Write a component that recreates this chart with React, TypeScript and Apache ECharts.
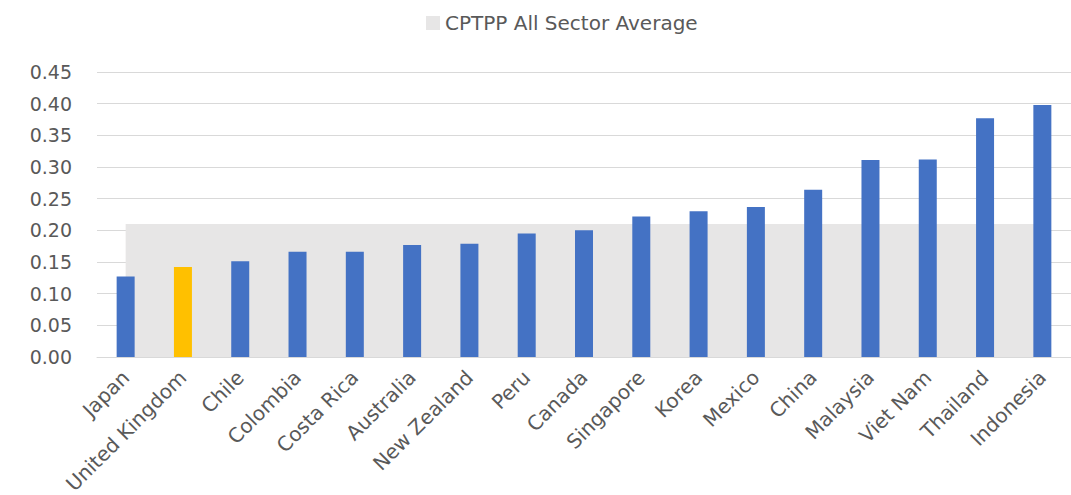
import React, { useEffect, useRef } from "react";
import * as echarts from "echarts";

const countries = [
  "Japan", "United Kingdom", "Chile", "Colombia", "Costa Rica", "Australia",
  "New Zealand", "Peru", "Canada", "Singapore", "Korea", "Mexico", "China",
  "Malaysia", "Viet Nam", "Thailand", "Indonesia",
];
const values = [
  0.127, 0.142, 0.151, 0.166, 0.166, 0.177, 0.179, 0.195, 0.2, 0.222, 0.23,
  0.237, 0.264, 0.311, 0.312, 0.377, 0.398,
];
const averageName = "CPTPP All Sector Average";
const averageValues = [
  0.21, 0.21, 0.21, 0.21, 0.21, 0.21, 0.21, 0.21, 0.21, 0.21, 0.21, 0.21,
  0.21, 0.21, 0.21, 0.21, 0.21,
];
const highlightCountry = "United Kingdom";
const yTicks = { min: 0, max: 0.45, interval: 0.05 };

const FONT = "DejaVu Sans";
const TEXT = "#595959";

export default function App() {
  const ref = useRef<HTMLDivElement>(null);
  useEffect(() => {
    if (!ref.current) return;
    const chart = echarts.init(ref.current, null, { renderer: "svg" });
    chart.setOption({
      animation: false,
      backgroundColor: "#ffffff",
      legend: {
        data: [averageName],
        left: 421,
        top: 8,
        icon: "rect",
        itemWidth: 14,
        itemHeight: 14,
        itemGap: 6,
        textStyle: { fontFamily: FONT, fontSize: 20, color: TEXT },
      },
      grid: {
        left: 97,
        right: 0,
        top: 72,
        bottom: 138,
        containLabel: false,
        outerBoundsMode: "none",
      },
      xAxis: {
        type: "category",
        data: countries,
        boundaryGap: true,
        axisTick: { show: false },
        axisLine: { show: true, lineStyle: { color: "#d9d9d9", width: 1 } },
        axisLabel: {
          interval: 0,
          rotate: 45,
          margin: 17,
          fontFamily: FONT,
          fontSize: 20,
          color: TEXT,
        },
      },
      yAxis: {
        type: "value",
        min: yTicks.min,
        max: yTicks.max,
        interval: yTicks.interval,
        axisLine: { show: false },
        axisTick: { show: false },
        splitLine: { lineStyle: { color: "#d9d9d9", width: 1 } },
        axisLabel: {
          margin: 25,
          fontFamily: FONT,
          fontSize: 19,
          color: TEXT,
          formatter: (v: number) => v.toFixed(2),
        },
      },
      series: [
        {
          name: averageName,
          type: "line",
          data: averageValues,
          symbol: "none",
          lineStyle: { width: 0, color: "#e7e6e6" },
          itemStyle: { color: "#e7e6e6" },
          areaStyle: { color: "#e7e6e6", opacity: 1 },
          z: 1,
        },
        {
          name: "Value",
          type: "bar",
          barWidth: 18,
          z: 3,
          data: values.map((v, i) => ({
            value: v,
            itemStyle: {
              color: countries[i] === highlightCountry ? "#FFC000" : "#4472C4",
            },
          })),
        },
      ],
    });
    return () => chart.dispose();
  }, []);
  return (
    <div
      ref={ref}
      style={{ position: "fixed", left: 0, top: 0, width: 1071, height: 495 }}
    />
  );
}
